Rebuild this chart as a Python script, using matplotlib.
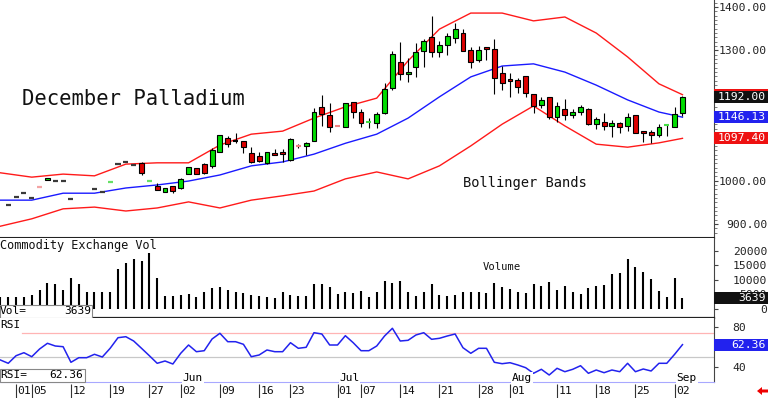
import matplotlib
matplotlib.use('Agg')
import matplotlib.pyplot as plt
from matplotlib.patches import Rectangle, Polygon
import numpy as np
import pandas as pd

plt.rcParams['font.family'] = ['DejaVu Sans Mono', 'DejaVu Sans']

# trading days shown (exchange holidays removed)
holidays = ['2025-05-26', '2025-06-19', '2025-07-04', '2025-09-01']
days = pd.bdate_range('2025-04-29', '2025-09-03')
days = days[~days.isin(pd.to_datetime(holidays))]

N = np.nan
opens = [N, 944, 962, 971, 960, 986, 1001, 999, 999, 958,
         N, N, 981, 974, 996, 1038, 1043, 1036, 1041, 998,
         988, 974, 988, 983, 1015, 1029, 1038, 1034, 1066, 1098,
         1091, 1091, 1064, 1057, 1041, 1064, 1066, 1047, 1082, 1080,
         1091, 1170, 1151, 1128, 1124, 1181, 1158, 1133, 1133, 1156,
         1213, 1273, 1246, 1262, 1299, 1331, 1296, 1312, 1329, 1340,
         1301, 1278, 1308, 1303, 1248, 1234, 1232, 1241, 1200, 1174,
         1193, 1147, 1165, 1151, 1158, 1165, 1131, 1135, 1126, 1133,
         1126, 1151, 1114, 1112, 1105, 1126, 1124, 1156]
highs = [N, 944, 962, 971, 960, 986, 1006, 999, 999, 958,
         N, N, 981, 974, 997, 1038, 1043, 1036, 1043, 999,
         994, 983, 988, 1006, 1031, 1029, 1041, 1075, 1105, 1103,
         1110, 1091, 1077, 1066, 1066, 1073, 1073, 1098, 1084, 1089,
         1167, 1197, 1179, 1129, 1179, 1181, 1165, 1144, 1158, 1225,
         1299, 1319, 1282, 1317, 1326, 1379, 1322, 1340, 1363, 1349,
         1308, 1310, 1308, 1326, 1264, 1248, 1236, 1241, 1200, 1193,
         1193, 1181, 1188, 1165, 1174, 1167, 1147, 1156, 1140, 1135,
         1156, 1151, 1114, 1117, 1130, 1130, 1170, 1195]
lows = [N, 944, 962, 971, 960, 985, 1001, 999, 999, 958,
        N, N, 981, 974, 996, 1038, 1043, 1036, 1013, 998,
        978, 974, 971, 980, 1015, 1015, 1015, 1029, 1066, 1077,
        1087, 1064, 1041, 1043, 1038, 1059, 1043, 1045, 1075, 1059,
        1091, 1126, 1112, 1125, 1124, 1144, 1124, 1122, 1122, 1154,
        1209, 1232, 1227, 1239, 1262, 1285, 1285, 1289, 1317, 1299,
        1259, 1273, 1278, 1200, 1209, 1193, 1202, 1193, 1156, 1167,
        1142, 1135, 1140, 1144, 1151, 1128, 1119, 1117, 1100, 1110,
        1115, 1110, 1089, 1087, 1100, 1103, 1124, 1149]
closes = [N, 944, 962, 971, 960, 985, 1006, 999, 999, 958,
          N, N, 981, 974, 997, 1038, 1043, 1036, 1018, 999,
          978, 983, 976, 1004, 1031, 1015, 1018, 1071, 1105, 1084,
          1091, 1077, 1043, 1045, 1066, 1060, 1061, 1096, 1080, 1087,
          1158, 1154, 1124, 1126, 1179, 1158, 1133, 1135, 1153, 1211,
          1292, 1246, 1250, 1296, 1322, 1296, 1312, 1333, 1349, 1299,
          1273, 1301, 1303, 1236, 1225, 1230, 1216, 1202, 1172, 1186,
          1147, 1172, 1151, 1158, 1170, 1131, 1142, 1126, 1133, 1124,
          1147, 1110, 1110, 1105, 1124, 1127, 1153, 1192]

# Bollinger bands read every 4 sessions
band_days = [0, 4, 8, 12, 16, 20, 24, 28, 32, 36, 40, 44, 48, 52, 56, 60, 64, 68, 72, 76, 80, 84, 87]
upper = [1018, 1008, 1015, 1011, 1038, 1041, 1041, 1082, 1107, 1114, 1144, 1170,
         1190, 1276, 1349, 1386, 1386, 1368, 1377, 1340, 1285, 1223, 1198]
middle = [955, 955, 971, 971, 983, 990, 999, 1013, 1034, 1043, 1061, 1086,
          1107, 1144, 1193, 1239, 1264, 1269, 1250, 1220, 1186, 1158, 1146.13]
lower = [895, 912, 935, 939, 930, 937, 951, 937, 955, 965, 976, 1004,
         1020, 1004, 1034, 1080, 1130, 1172, 1126, 1084, 1077, 1087, 1097.40]

volume = [4229, 4229, 4229, 4000, 4800, 6515, 8800, 8457, 6515, 10515,
          8572, 5943, 5715, 5715, 5715, 13600, 15660, 17030, 16570, 19090,
          10745, 4458, 4458, 4800, 5030, 4000, 5715, 7315, 7430, 6515,
          5715, 5372, 4800, 4458, 4229, 3886, 5715, 4800, 4572, 4458,
          8572, 8572, 7430, 5030, 5715, 5600, 6172, 4229, 5943, 9600,
          8800, 9600, 5715, 4458, 5943, 8457, 4800, 4458, 4800, 5943,
          5943, 5943, 5372, 8800, 7658, 6858, 5715, 5600, 8457, 7886,
          9372, 6515, 7886, 5943, 5030, 7315, 8000, 8229, 11886, 12230,
          17145, 14290, 12800, 10170, 6172, 4000, 10745, 3639]

rsi = [47, 43.7, 51.3, 54.3, 50.3, 58, 63.7, 61, 60.3, 44.7,
       49.3, 49.3, 52.7, 50, 58.7, 69.3, 70.3, 66, 58.7, 51.3,
       43.7, 46, 43, 53.7, 62, 55.3, 56.3, 68, 73.7, 65.3,
       65.3, 62.7, 50.3, 52, 57, 55.3, 55.3, 64.3, 58.7, 59.7,
       74.3, 73, 62, 62, 71.3, 64.3, 56.3, 56.3, 61, 71,
       78.7, 66, 66.7, 72, 74.3, 67.7, 68.7, 71, 73, 59.3,
       53.7, 58.7, 58.7, 44.7, 43.3, 44.3, 42, 39.3, 33.7, 37.7,
       32, 38.7, 35.3, 37.7, 41.3, 33.7, 37, 34.3, 37, 35.3,
       43.7, 35.3, 38, 36, 43.7, 43.7, 52.7, 62.36]

date_ticks = ['2025-05-01', '2025-05-05', '2025-05-12', '2025-05-19', '2025-05-27',
              '2025-06-02', '2025-06-09', '2025-06-16', '2025-06-23', '2025-07-01',
              '2025-07-07', '2025-07-14', '2025-07-21', '2025-07-28', '2025-08-01',
              '2025-08-11', '2025-08-18', '2025-08-25', '2025-09-02']
months = ['Jun', 'Jul', 'Aug', 'Sep']
month_starts = ['2025-06-02', '2025-07-01', '2025-08-01', '2025-09-02']

price_ticks = [900, 1000, 1300, 1400]
vol_ticks = [0, 5000, 10000, 15000, 20000]
rsi_ticks = [40, 80]

W, H = 768, 398
PW = 714  # width of the plotting area in pixels
fig = plt.figure(figsize=(W / 100, H / 100), dpi=100)


def panel(top, bottom):
    return fig.add_axes([0, 1 - bottom / H, PW / W, (bottom - top) / H])


ax = panel(0, 238)
axv = panel(238, 318)
axr = panel(318, 382)
axd = panel(382, 398)

x = np.arange(len(days))
xlim = (-0.05, PW / 7.84 - 0.05)
for a in (ax, axv, axr, axd):
    a.set_xlim(*xlim)
    a.tick_params(axis='x', bottom=False, labelbottom=False)
    for s in ('top', 'left'):
        a.spines[s].set_visible(False)
    a.spines['right'].set_color('#444444')
    a.spines['bottom'].set_color('#222222')

# ---- price panel ----
ax.set_ylim(867.8, 1416.1)
bw = 0.62
for i in x:
    o, h, l, c = opens[i], highs[i], lows[i], closes[i]
    if np.isnan(o):
        continue
    if h - l <= 2:
        col = '#f4a4a4' if c < o else ('#66e066' if c > o else '#3a3a3a')
        ax.hlines(c, i - 0.32, i + 0.32, color=col, lw=1.6, zorder=3)
        continue
    ax.vlines(i, l, h, color='black', lw=0.8, zorder=2)
    if abs(c - o) <= 2:
        col = '#f08080' if c < o else ('#44dd44' if c > o else 'black')
        ax.hlines(c, i - 0.32, i + 0.32, color=col, lw=1.5, zorder=3)
    else:
        col = '#00dd00' if c > o else '#dd0000'
        ax.add_patch(Rectangle((i - bw / 2, min(o, c)), bw, abs(c - o),
                               facecolor=col, edgecolor='black', lw=0.8, zorder=3))

ax.plot(band_days, upper, color='#ff1a1a', lw=1.0, zorder=1)
ax.plot(band_days, middle, color='#1a1aff', lw=1.0, zorder=1)
ax.plot(band_days, lower, color='#ff1a1a', lw=1.0, zorder=1)
ax.spines['bottom'].set_linewidth(1.5)

ax.text(22 / PW, 1 - 99 / 238, 'December Palladium', transform=ax.transAxes,
        fontsize=14.8, va='center', ha='left', color='#111111')
ax.text(463 / PW, 1 - 183 / 238, 'Bollinger Bands', transform=ax.transAxes,
        fontsize=9.9, va='center', ha='left', color='#111111')

# ---- volume panel ----
axv.set_ylim(-3086, 24346)
axv.vlines(x, 0, volume, color='black', lw=1.5)
axv.spines['bottom'].set_linewidth(1.6)
axv.text(0, 1 - 7 / 80, 'Commodity Exchange Vol', transform=axv.transAxes,
         fontsize=8.6, va='center', ha='left', color='#111111')
axv.text(483 / PW, 1 - 29 / 80, 'Volume', transform=axv.transAxes,
         fontsize=7.6, va='center', ha='left', color='#111111')
axv.add_patch(Rectangle((0, 0), 92 / PW, 13 / 80, transform=axv.transAxes,
                        facecolor='white', edgecolor='#888888', lw=0.8, zorder=4))
axv.text(0, 6.5 / 80, 'Vol=', transform=axv.transAxes, fontsize=8,
         va='center', ha='left', zorder=5)
axv.text(91 / PW, 6.5 / 80, f'{volume[-1]}', transform=axv.transAxes, fontsize=8,
         va='center', ha='right', zorder=5)

# ---- RSI panel ----
axr.set_ylim(25, 89)
axr.plot(x, rsi, color='#2222ee', lw=1.1, zorder=3)
axr.axhline(74, xmin=22 / PW, color='#ffb4b4', lw=0.9, zorder=1)
axr.axhline(50, color='#c8c8c8', lw=0.9, zorder=1)
axr.spines['bottom'].set_color('#a8a8ff')
axr.text(0, 1 - 7 / 64, 'RSI', transform=axr.transAxes, fontsize=8,
         va='center', ha='left')
axr.add_patch(Rectangle((0, 0), 85 / PW, 13 / 64, transform=axr.transAxes,
                        facecolor='white', edgecolor='#888888', lw=0.8, zorder=4,
                        clip_on=False))
axr.text(0, 6.5 / 64, 'RSI=', transform=axr.transAxes, fontsize=8,
         va='center', ha='left', zorder=5)
axr.text(83 / PW, 6.5 / 64, f'{rsi[-1]:.2f}', transform=axr.transAxes, fontsize=8,
         va='center', ha='right', zorder=5)
for m, d in zip(months, month_starts):
    pos = days.get_loc(pd.Timestamp(d))
    axr.text(pos + 0.25, 4 / 64, m, transform=axr.get_xaxis_transform(),
             fontsize=8, va='center', ha='left', zorder=5, clip_on=False,
             bbox=dict(facecolor='white', edgecolor='none', pad=0.6))

# ---- date strip ----
axd.set_ylim(0, 1)
axd.axis('off')
tick_pos = [days.get_loc(pd.Timestamp(d)) for d in date_ticks]
axd.vlines(tick_pos, 0, 0.85, color='#333333', lw=0.8)
for p, d in zip(tick_pos, date_ticks):
    axd.text(p + 0.15, 0.45, pd.Timestamp(d).strftime('%d'), fontsize=8.2,
             va='center', ha='left', color='#111111')

# ---- right hand scales ----
def right_labels(a, ticks, labels, right=True, minor=None):
    a.yaxis.tick_right()
    a.set_yticks(ticks)
    a.set_yticklabels(labels)
    if minor is not None:
        a.set_yticks(minor, minor=True)
        a.tick_params(axis='y', which='minor', length=2, color='#666666')
    if right:
        a.tick_params(axis='y', which='major', length=3, pad=35.3,
                      labelsize=8.2, labelcolor='#222222', color='#444444')
        for t in a.get_yticklabels():
            t.set_horizontalalignment('right')
    else:
        a.tick_params(axis='y', which='major', length=3, pad=10,
                      labelsize=8.2, labelcolor='#222222', color='#444444')


right_labels(ax, price_ticks, [f'{v:.2f}' for v in price_ticks],
             minor=np.arange(880, 1420, 10))
right_labels(axv, vol_ticks, [str(v) for v in vol_ticks])
right_labels(axr, rsi_ticks, [str(v) for v in rsi_ticks], right=False)


def value_box(a, val, label, face, h_px=12, z=6):
    lo, hi = a.get_ylim()
    dh = h_px * (hi - lo) / (a.get_position().height * H)
    tr = a.get_yaxis_transform()
    a.add_patch(Rectangle((1.0, val - dh / 2), 54 / PW, dh, transform=tr,
                          facecolor=face, edgecolor='none', clip_on=False, zorder=z))
    if label:
        a.text(1.0 + 52 / PW, val, label, transform=tr, ha='right', va='center',
               color='white', fontsize=8.2, zorder=z + 0.5, clip_on=False)


# upper band marker sits behind the last price box, only its edge shows
value_box(ax, upper[-1], None, '#ee1111', z=5)
value_box(ax, closes[-1], f'{closes[-1]:.2f}', '#111111', z=6)
value_box(ax, middle[-1], f'{middle[-1]:.2f}', '#2222ee')
value_box(ax, lower[-1], f'{lower[-1]:.2f}', '#ee1111')
value_box(axv, volume[-1], f'{volume[-1]}', '#111111')
value_box(axr, rsi[-1], f'{rsi[-1]:.2f}', '#2222ee')

# small red arrow, lower right corner
pts = [(757, 391), (762, 387), (762, 389.5), (768, 389.5), (768, 392.5),
       (762, 392.5), (762, 395)]
fig.add_artist(Polygon([(px / W, 1 - py / H) for px, py in pts], closed=True,
                       transform=fig.transFigure, facecolor='#ee0000',
                       edgecolor='none'))

fig.savefig('out.png', dpi=100)
